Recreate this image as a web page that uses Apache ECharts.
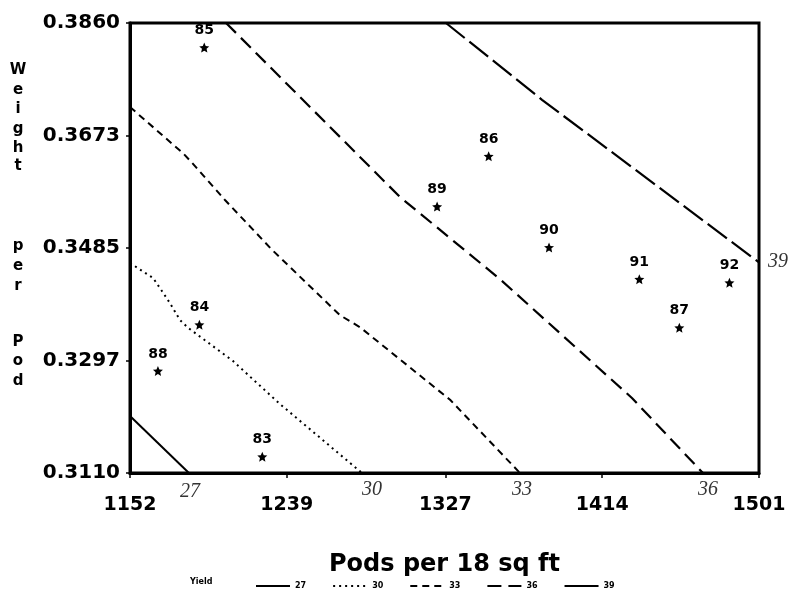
<!DOCTYPE html>
<html>
<head>
<meta charset="utf-8">
<script src="https://cdn.jsdelivr.net/npm/echarts@6/dist/echarts.min.js"></script>
<style>
html,body{margin:0;padding:0;background:#fff;}
#chart{width:792px;height:590px;}
</style>
</head>
<body>
<div id="chart"></div>
<script>
// ---- data ----
var xTickValues = [1152, 1239, 1327, 1414, 1501];
var xTickLabels = ['1152', '1239', '1327', '1414', '1501'];
var yTickValues = [0.311, 0.32975, 0.3485, 0.36725, 0.386];
var yTickLabels = ['0.3110', '0.3297', '0.3485', '0.3673', '0.3860'];

var pointLabels = ['85', '86', '89', '90', '91', '92', '87', '84', '88', '83'];
var pointX = [1193.2, 1351.0, 1322.4, 1384.5, 1434.6, 1484.6, 1456.8, 1190.5, 1167.5, 1225.4];
var pointY = [0.3819, 0.3638, 0.3554, 0.3486, 0.3433, 0.3427, 0.3352, 0.3357, 0.3280, 0.3137];

var contourNames = ['27', '30', '33', '36', '39'];
var contour27 = [[1152, 0.3205], [1184.7, 0.3110]];
var contour30 = [[1152, 0.3460], [1164.8, 0.3435], [1169.8, 0.3413], [1174.2, 0.3393], [1179.7, 0.3365], [1184.2, 0.3352], [1209.0, 0.3297], [1235.2, 0.3225], [1280.7, 0.3110]];
var contour33 = [[1152, 0.3720], [1181.4, 0.3643], [1186.4, 0.3627], [1204.7, 0.3565], [1230.8, 0.3482], [1268.5, 0.3373], [1279.6, 0.3353], [1329.6, 0.3232], [1368.4, 0.3110]];
var contour36 = [[1205.3, 0.3860], [1301.8, 0.3570], [1357.3, 0.3433], [1430.5, 0.3235], [1469.9, 0.3110]];
var contour39 = [[1327.3, 0.3860], [1380.6, 0.3732], [1501, 0.3461]];

var handNotes = ['27', '30', '33', '36', '39'];
var yTitleLetters = ['W', 'e', 'i', 'g', 'h', 't', 'p', 'e', 'r', 'P', 'o', 'd'];

// ---- chart ----
var FONT = 'DejaVu Sans';
var chart = echarts.init(document.getElementById('chart'), null, {renderer: 'canvas'});

var scatterData = pointX.map(function (x, i) { return {value: [x, pointY[i]], name: pointLabels[i]}; });

var starPath = 'path://M50,0 L64,32 L98,35 L72,57 L80,92 L50,74 L20,92 L28,57 L2,35 L36,32 Z';

function contourSeries(name, data, type, width) {
  return {
    type: 'line', name: name, data: data, symbol: 'none', smooth: false,
    silent: true, animation: false, z: 3,
    itemStyle: {color: '#000'},
    lineStyle: {color: '#000', width: width, type: type}
  };
}

var yTitleY = [70, 90, 109, 129, 148, 166, 246, 266, 286, 342, 361, 381];
var graphics = [];
yTitleLetters.forEach(function (ch, i) {
  graphics.push({type: 'text', x: 18, y: yTitleY[i],
    style: {text: ch, font: 'bold 15px "' + FONT + '"', fill: '#000', align: 'center', verticalAlign: 'middle'}});
});
graphics.push({type: 'text', x: 190, y: 582,
  style: {text: 'Yield', font: 'bold 8px "' + FONT + '"', fill: '#000', align: 'left', verticalAlign: 'middle'}});
var notePos = [[190, 492], [372, 490], [522, 490], [708, 490], [778, 262]];
handNotes.forEach(function (t, i) {
  graphics.push({type: 'text', x: notePos[i][0], y: notePos[i][1],
    style: {text: t, font: 'italic 20px "Liberation Serif"', fill: '#333', align: 'center', verticalAlign: 'middle'}});
});

var legendData = contourNames.map(function (n) {
  return n === '39' ? {name: n, lineStyle: {type: 'solid'}} : {name: n};
});

var option = {
  backgroundColor: '#fff',
  animation: false,
  grid: {left: 130, right: 33, top: 23, bottom: 117, show: true, borderColor: '#000', borderWidth: 3, backgroundColor: 'transparent'},
  xAxis: {
    type: 'value', min: 1152, max: 1501,
    name: 'Pods per 18 sq ft', nameLocation: 'middle', nameGap: 80,
    nameTextStyle: {fontFamily: FONT, fontWeight: 'bold', fontSize: 24, color: '#000'},
    axisLine: {lineStyle: {color: '#000', width: 3}},
    axisTick: {show: true, length: 5, customValues: xTickValues, lineStyle: {color: '#000', width: 1.5}},
    axisLabel: {customValues: xTickValues, margin: 23, fontFamily: FONT, fontWeight: 'bold', fontSize: 19, color: '#000',
      formatter: function (v) { var i = xTickValues.indexOf(v); return i >= 0 ? xTickLabels[i] : ''; }},
    splitLine: {show: false}
  },
  yAxis: {
    type: 'value', min: 0.311, max: 0.386,
    axisLine: {show: true, lineStyle: {color: '#000', width: 3}},
    axisTick: {show: true, length: 4, customValues: yTickValues, lineStyle: {color: '#000', width: 1.5}},
    axisLabel: {customValues: yTickValues, margin: 10, fontFamily: FONT, fontWeight: 'bold', fontSize: 20, color: '#000',
      formatter: function (v) {
        for (var i = 0; i < yTickValues.length; i++) { if (Math.abs(yTickValues[i] - v) < 1e-6) return yTickLabels[i]; }
        return '';
      }},
    splitLine: {show: false}
  },
  legend: {
    left: 250, top: 577, itemWidth: 34, itemHeight: 8, itemGap: 26,
    data: legendData,
    itemStyle: {opacity: 0},
    lineStyle: {width: 2, color: '#000'},
    textStyle: {fontFamily: FONT, fontWeight: 'bold', fontSize: 8, color: '#000'},
    selectedMode: false
  },
  graphic: graphics,
  series: [
    contourSeries('27', contour27, 'solid', 2),
    contourSeries('30', contour30, [2, 4], 2),
    contourSeries('33', contour33, [7, 5], 2),
    contourSeries('36', contour36, [14, 7], 2.2),
    contourSeries('39', contour39, [24, 6], 2.2),
    {
      type: 'scatter', name: 'points', data: scatterData,
      symbol: starPath, symbolSize: 10, z: 5,
      itemStyle: {color: '#000', opacity: 1},
      label: {show: true, position: 'top', distance: 5, formatter: '{b}',
        fontFamily: FONT, fontWeight: 'bold', fontSize: 14, color: '#000'}
    }
  ]
};
chart.setOption(option);
</script>
</body>
</html>
